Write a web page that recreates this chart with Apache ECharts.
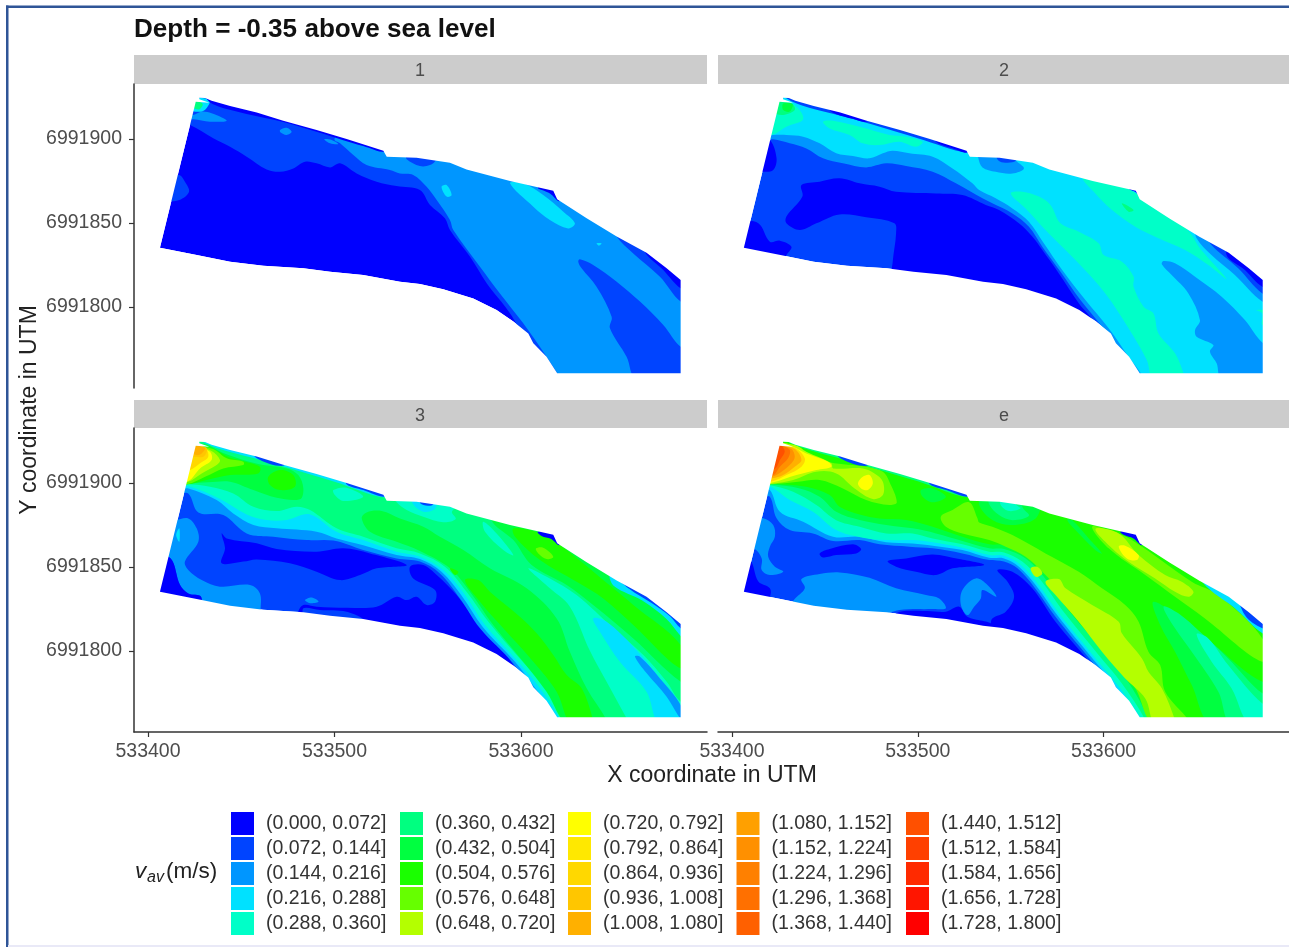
<!DOCTYPE html>
<html><head><meta charset="utf-8">
<style>html,body{margin:0;padding:0;background:#fff}#c{width:1289px;height:947px;filter:blur(0.5px)}</style>
<script src="https://cdn.jsdelivr.net/npm/echarts@6/dist/echarts.min.js"></script>
</head><body><div id="c"></div>
<script>
const panelNames = ['1','2','3','e'];
const xTicks = [533400,533500,533600];
const yTicks = [6991800,6991850,6991900];
const X0 = 533400, Y0 = 6991800; // region vertices are metres east / north of this point
const levelLabels = ['(0.000, 0.072]','(0.072, 0.144]','(0.144, 0.216]','(0.216, 0.288]','(0.288, 0.360]',
 '(0.360, 0.432]','(0.432, 0.504]','(0.504, 0.576]','(0.576, 0.648]','(0.648, 0.720]',
 '(0.720, 0.792]','(0.792, 0.864]','(0.864, 0.936]','(0.936, 1.008]','(1.008, 1.080]',
 '(1.080, 1.152]','(1.152, 1.224]','(1.224, 1.296]','(1.296, 1.368]','(1.368, 1.440]',
 '(1.440, 1.512]','(1.512, 1.584]','(1.584, 1.656]','(1.656, 1.728]','(1.728, 1.800]'];
const levelColors = ['#0000FF','#0044FF','#0096FF','#00E1FF','#00FFC8',
 '#00FF80','#00FF40','#1AFF00','#66FF00','#B4FF00',
 '#FFFF00','#FFE800','#FFD800','#FFC600','#FFB000',
 '#FFA000','#FF9000','#FF8000','#FF7000','#FF6000',
 '#FF5000','#FF4000','#FF2A00','#FF1500','#FF0000'];
const domainOutline = [[25.6,122.2],[32.9,121.6],[27.5,123.6],[27.5,124.6],[30.6,124.4],[34.1,122.8],[44,119.6],[58.3,115.7],[72.5,110.9],[90.4,105.3],[106.5,100],[126.2,93],[128,89.5],[144,88.9],[161.9,85.9],[170.8,81.9],[194.1,75],[217.3,69.2],[219.4,64.1],[235.2,52.8],[251.3,41.9],[267.3,32.3],[278.1,23],[285.6,16.1],[285.6,-39.5],[219.4,-39.5],[213.7,-29.6],[206.6,-21.6],[203.9,-15.7],[195.9,-8.7],[186.9,-1.8],[174.4,5.1],[158.3,10.5],[145.8,13.7],[135.1,15],[115.4,19],[97.6,21],[83.3,23],[61.8,24.6],[44,27],[26.1,31],[6.4,35.3]];
const OUTER_EAST = [[222,-46],[290,-46],[296,-46],[296,-40],[296,122],[296,128],[290,128]];
const OUTER = [...OUTER_EAST,[21,128],[15,128],[15,122]];

const panel1Regions = [
 [0,domainOutline],
 [1,[[15,110],[22.5,108.3],[35,100.4],[44,95.4],[52.9,89.5],[63.6,81.9],[70.8,80.5],[77.9,82.5],[84.2,86.5],[90.4,85.5],[97.6,83.1],[103,85.5],[111.9,79.5],[122.6,74.6],[133.3,72],[145.8,69.6],[151.2,60.7],[159.2,52.8],[161.9,45.8],[172.6,30],[181.6,14.1],[196.8,-8.7],[200,-25],...OUTER]],
 [1,[[16.8,78.6],[19.8,74.6],[22,68.6],[16.8,63.7],[10,64],[10,78]]],
 [2,[[100,100],[103,97.4],[110.1,90.5],[117.2,84.5],[129.7,81.5],[135.1,79.5],[142.2,78.6],[149.4,71.6],[154.8,63.7],[161.9,51.8],[163.7,45.8],[178,24],[188.7,8.1],[201.2,-9.7],[213.7,-29.6],[219.4,-39.5],...OUTER_EAST,[115,128],[110,128],[108,122]]],
 [2,[[24.3,114.3],[28.8,116.3],[34.1,115.3],[42.2,110.9],[33.2,110.3],[24.3,111.7],[20,112],[22,116]]],
 [3,[[24,124],[33,123],[30.5,117.2],[26,116.2],[22,118]]],
 [5,[[25,124],[29.3,120.8],[27.5,117.6],[24,119.2]]],
 [2,[[70.8,105.3],[74.3,106.7],[77,104.3],[74.3,102.4],[71.1,103.8]]],
 [2,[[94.5,99.8],[98.5,99.4],[102,97],[97.6,97.4]]],
 [0,[[30,128],[60,122],[100,108],[132,96],[127,92.2],[115.4,95.8],[104.7,99.3],[90.4,104.3],[72.5,110.1],[52.9,114.9],[42.2,117.8],[35.9,120.2],[32.3,122.8]]],
 [1,[[138.7,90],[138.7,88],[145.8,83.9],[151.2,84.5],[154.4,87.5],[154,92]]],
 [0,[[209,71],[219,72],[220.5,63],[215.5,67.6]]],
 [1,[[251.3,41.9],[260.2,31.9],[274.5,18],[285.6,3.2],[292,3],[292,22],[270,42],[252,46]]],
 [0,[[266,34],[276.3,22],[285.6,11.1],[292,10],[292,22],[272,40]]],
 [1,[[231.6,28.4],[238.7,25],[251.3,15.1],[263.8,3.2],[276.3,-10.7],[285.6,-23.6],[292,-24],[292,-44],[262,-43],[256.6,-29.6],[247.7,-12.7],[248.6,-5.8],[240.5,12.1],[232.5,23],[230.7,27]]],
 [3,[[194.1,73.6],[201.2,73.6],[211.9,66.6],[222.7,56.7],[228.9,49.8],[225.3,46.8],[215.5,51.8],[206.6,59.7]]],
 [3,[[157.4,71.6],[160.1,72.6],[162.8,66.6],[160.1,65.7]]],
 [3,[[240.5,37.9],[243.2,37.9],[241.8,36.5]]]
];

const panel2Regions = [
 [1,domainOutline],
 [0,[[37.4,72.6],[47.2,74.6],[57.9,76.6],[68.7,73.6],[79.4,71.6],[88.3,68.6],[109.8,67.6],[124,66.6],[136.6,60.7],[143.7,57.7],[154.4,49.8],[161.6,41.9],[167,33.9],[175.9,20],[186.6,2.2],[194.7,-9.7],[190,-14],[180,-5],[140,8],[95,10],[86.5,19],[86.5,27],[88.3,43.8],[87.4,49.8],[72.2,53.4],[57.9,55.1],[45.4,49.8],[36.5,45.8],[29.3,49.8],[29.3,53.8],[37.9,65.7]]],
 [0,[[20.4,99.4],[24,88.5],[22.2,81.5],[16.8,80.5],[10,82],[14,100]]],
 [0,[[14.2,49.8],[20.4,38.9],[25.8,39.5],[32,35.9],[29.3,31],[25,24],[0,30],[5,50]]],
 [2,[[15,100],[22.2,99.8],[31.1,97.4],[40,94.4],[49,88.5],[59.7,85.5],[72.2,83.1],[83,85.5],[93.7,83.9],[108,80.5],[120.5,73.6],[134.8,64.7],[140.1,61.7],[150.9,55.7],[159.8,47.8],[167,35.9],[176.8,21],[187.5,4.1],[199.1,-11.7],[211.6,-30.6],[218.8,-40.5],...OUTER]],
 [3,[[15,102.4],[21.7,102.4],[29.3,102.4],[38.3,101.4],[47.2,97.4],[56.1,91.5],[65.1,89.9],[74,88.5],[81.2,91.5],[86.5,93],[95.5,91.5],[108,89.5],[118.7,82.5],[129.4,73.6],[133,69.6],[141.9,64.7],[150.9,58.7],[159.8,50.8],[167.8,37.9],[177.7,22],[190.2,4.1],[202.7,-12.7],[213.4,-29.6],[220.6,-40.5],...OUTER]],
 [1,[[28,126],[60,122],[100,108],[127,97],[126.7,91.9],[100,100.5],[60,113.5],[42,118.5],[32,122.5]]],
 [0,[[52.6,117.2],[56.1,114.8],[65.1,112],[72.2,110.3],[74,115],[52,122]]],
 [0,[[109.8,98.4],[118.7,94.5],[126.7,91.9],[128,97],[110,103]]],
 [2,[[132.6,88.5],[134.8,83.1],[141.9,80.5],[150.9,79.5],[157.1,82.5],[152.7,87.5],[152,92],[133,92]]],
 [1,[[142.8,88],[146,86],[152.7,87],[152,92],[143,92]]],
 [0,[[211.6,70.6],[217,68.6],[219.7,64.7],[222,64],[218,73],[210,73]]],
 [4,[[49,110.3],[54.4,110.9],[68.7,107.3],[84.7,102.4],[93.7,101.4],[102.6,98.4],[99,95.4],[90.1,98.4],[79.4,96.4],[70.4,97.4],[63.3,102.4],[52.6,106.3]]],
 [4,[[21.3,102.4],[29.3,107.3],[38.3,111.7],[33.8,120.2],[26.7,122.2],[20,122],[15,105]]],
 [5,[[20,122],[26.7,122.2],[32.5,120.8],[33.8,117.2],[27.6,114.3],[22,116]]],
 [6,[[27.6,121.2],[32.6,120.8],[31.1,116.3],[27.6,117.2]]],
 [4,[[150,67.6],[156.2,68.6],[165.2,65.7],[171.4,60.7],[176.8,49.8],[186.6,44.8],[197.3,37.9],[200,30.9],[209.8,27],[216.1,18.1],[216.1,12.1],[221.5,0.2],[226.8,-3.8],[229.5,-15.7],[238.4,-27.6],[242.9,-39.5],[243,-44],[226.8,-43],[223.2,-31.6],[213.4,-12.7],[200.9,8.1],[184.8,28],[170.5,43.8],[158,58.7]]],
 [4,[[188.4,77.6],[194.7,68.6],[204.5,57.7],[217,47.8],[229.5,40.9],[243.8,33.9],[256.3,25],[266.1,16.7],[251.8,34.9],[247.4,42.8],[240,52],[220,66],[195,80]]],
 [5,[[209.8,61.7],[216.1,57.7],[213.4,56.7]]],
 [2,[[232.2,27.4],[238.4,26],[249.2,18],[263.5,6.1],[276,-7.8],[285.8,-21.6],[292,-22],[292,-44],[263.5,-42.5],[260.8,-33.5],[257.2,-26.6],[259,-22.6],[250,-17.7],[249.2,-13.7],[251.8,-7.8],[245.6,8.1],[236.6,19],[231.3,25.4]]],
 [2,[[250,40.9],[258,30.9],[270.6,19],[285.4,3.2],[292,3],[292,25],[270,42],[250,47]]],
 [1,[[258,36.9],[272.4,23],[285.4,8.1],[292,8],[292,25],[270,42],[255,44]]],
 [0,[[266.1,30.9],[276,22],[285.4,12.1],[292,12],[292,25],[270,40]]],
 [4,[[281.9,-1.8],[285.4,-3.8],[285.4,-10.7],[292,-10],[292,-3]]]
];

const panel3Regions = [
 [1,domainOutline],
 [0,[[39.5,70],[42.2,67],[58.3,64.1],[69,60.7],[90.4,59.1],[104.7,61.1],[119,58.1],[138.7,51.2],[122.6,49.2],[113.7,45.2],[103,42.2],[90.4,47.2],[76.1,52.2],[58.3,54.5],[51.1,53.2],[39.5,52.2],[41.3,61.1]]],
 [2,[[14.5,77.9],[21.6,78.9],[26.1,73],[27,65.1],[19.8,53.2],[21.6,48.2],[28.8,42.2],[38.6,38.3],[54.7,39.3],[60,34.3],[60.4,24.4],[60,18],[30,22],[28.8,30.3],[27.9,32.9],[21.6,34.3],[17.2,39.3],[12.2,55.1],[5,55],[8,78]]],
 [3,[[15.1,69],[16.8,73],[16.8,65]]],
 [0,[[12.2,55.1],[17.2,39.3],[21.6,34.3],[27.9,32.9],[28.8,30.3],[25,24],[0,30],[5,55]]],
 [0,[[140.5,50.2],[147.6,51.2],[154.8,45.2],[165.5,33.3],[176.2,17.4],[186.9,5.5],[195.9,-8.3],[200,-16],[180,-8],[135,4],[80,15],[80.6,23.4],[83.3,27.4],[90.4,26.4],[106.5,25.8],[122.6,26.4],[133.3,32.3],[138.7,30.3],[144,32.3],[149.4,27.4],[153.9,29.3],[153.9,36.3],[142.2,43.2]]],
 [2,[[84.2,30.3],[87.8,31.9],[91.5,29.4],[86.9,28.4]]],
 [1,[[83.3,25.4],[92.2,24.4],[106.5,23.4],[115.4,18.4],[100,15],[85,18]]],
 [2,[[15,94],[21.6,93.8],[27,82.5],[40.4,80.9],[52.9,70],[67.2,68],[85,66],[99.4,65.7],[115.4,60.1],[133.3,55.1],[145.8,53.2],[156.5,46.2],[167.3,31.3],[178,13.5],[195.9,-7.4],[206.6,-24.2],[219.1,-41],...OUTER]],
 [3,[[15,97],[21.6,96.8],[36.8,89.9],[45.7,81.9],[56.5,75],[69,73],[90.4,71],[101.1,67],[115.4,63],[133.3,57.1],[145.8,54.7],[157.4,47.2],[168.2,32.9],[179.4,14.5],[196.8,-6.4],[208.4,-23.2],[220,-41],...OUTER]],
 [4,[[15,98],[21.6,98.2],[38.6,90.5],[52.9,81.3],[63.6,78],[74.4,78],[86.9,81.3],[101.1,71],[115.4,66],[133.3,59.1],[145.8,56.1],[158.3,48.2],[169.4,34.3],[180.7,15.5],[197.6,-5.4],[210.2,-22.2],[221.2,-41],...OUTER]],
 [5,[[15,99],[21.6,99.2],[33.2,97.8],[45.7,93.8],[56.5,85.9],[69,83.3],[79.7,85.9],[86.9,83.9],[101.1,73],[115.4,68],[133.3,61.1],[145.8,58.1],[159.2,50.2],[170.8,35.3],[182.5,17.4],[198.5,-3.4],[212,-20.3],[223.6,-41],...OUTER]],
 [6,[[21.6,99.8],[32.3,100.4],[44,100.8],[56.5,95.8],[69,91.2],[81.5,90.4],[83.3,96.8],[80.6,104.7],[74.4,108.7],[61.8,110.7],[51.1,113.7],[40,118],[30,123],[15,122],[14,100]]],
 [7,[[64.5,103.7],[70.8,107.7],[77.9,104.7],[78.8,97.8],[70.8,95.8],[65.4,98.8]]],
 [7,[[21.1,99.2],[31.4,101.8],[44,104.7],[59.1,105.7],[60,109.7],[51.1,113],[44,115],[35,120.2],[25.6,122.2],[15,122],[12,100]]],
 [8,[[21.1,99.2],[30.6,103.7],[40.4,108.7],[51.1,110.7],[51.1,112.7],[42.2,114.7],[35,120.2],[25.6,122.2],[15,122],[12,100]]],
 [9,[[21.6,100.8],[28.8,105.7],[36.8,110.7],[38.6,113.7],[34.1,119],[26.1,122.2],[15,122],[12,100]]],
 [10,[[21.6,101.2],[27.9,108.7],[34.1,113.7],[33.2,118.6],[26.1,122.2],[15,122],[12,100]]],
 [12,[[22.5,107.7],[27.9,111.7],[32.3,115.6],[30.6,121],[25.6,122.2],[15,122],[15,107]]],
 [13,[[24.3,115.6],[29.7,115.6],[31.8,119.6],[30.6,121.4],[25.6,122.2],[20,122],[20,115]]],
 [14,[[25.6,122],[30.6,121],[28.8,117.6],[26,116.6],[24,118]]],
 [4,[[99.4,95.8],[106.5,97.2],[115.4,91.8],[104.7,89.3],[100.2,92.8]]],
 [6,[[114.6,79],[117.2,82.5],[125.3,83.3],[135.1,78.9],[147.6,74],[156.5,68],[169.1,60.1],[183.3,49.2],[203,37.3],[219.1,19.4],[226.2,-0.4],[235.2,-22.2],[245.9,-41],[245.9,-44],[225.3,-44],[213.7,-24.2],[201.2,-6.4],[185.1,15.5],[172.6,35.3],[161.9,49.2],[145.8,59.5],[133.3,65],[119,71]]],
 [7,[[169.9,42.2],[177.1,42.2],[183.3,35.3],[199.4,20.4],[208.4,10.5],[217.3,-2.4],[224.5,-14.3],[232.5,-22.2],[238.7,-41],[238.7,-44],[227.1,-44],[219.1,-24.2],[206.6,-6.4],[190.5,13.5],[178,29.3]]],
 [7,[[161.9,49.2],[166.4,47.2],[164.6,45.2]]],
 [4,[[133.3,90],[133.3,88.5],[138.7,83.9],[147.6,79.9],[158.3,76.6],[165,78.5],[163,83],[170,90]]],
 [3,[[142.2,87.3],[147.6,82.9],[153,83.9],[154.8,86.9],[155,92],[142,92]]],
 [1,[[146,88],[150,86.5],[153,87.4],[153,92],[146,92]]],
 [6,[[184.2,77.9],[195.9,66],[205.7,51.2],[224.5,39.3],[238.7,27.4],[260.2,7.5],[285.7,-18.3],[292,-18],[292,10],[250,45],[220,75],[190,85]]],
 [7,[[195.9,73],[196.8,68],[210.2,54.1],[229.8,41.2],[244.1,31.3],[260.2,15.5],[285.6,-10.3],[285.6,3.5],[260.2,27.4],[249.5,37.3],[217.3,66],[206.6,71.4]]],
 [8,[[208,61],[211.9,61.5],[217.3,56.1],[213.7,54.7],[209.3,58.1]]],
 [4,[[179.8,77],[186.9,70],[195.9,57.1],[190.5,60.1],[180.7,71]]],
 [4,[[203.9,49.2],[215.5,43.2],[229.8,33.3],[249.5,13.5],[265.6,-2.4],[278.1,-18.3],[285.7,-30.2],[292,-30],[292,-44],[258.4,-44],[256.6,-40.1],[245.9,-18.3],[237,0],[226.2,26.4],[215.5,37.3]]],
 [3,[[238.7,19.4],[245.9,17.4],[260.2,2.6],[274.5,-16.3],[285.7,-34.2],[292,-34],[292,-44],[274.5,-44],[267.3,-24.2],[253,-6.4],[242.3,11.5]]],
 [2,[[261.1,-3.4],[263.8,-3.4],[274.5,-16.3],[285.6,-32.2],[285.7,-40.1],[278.1,-27.2],[267.4,-13.3]]],
 [3,[[28,126],[60,122],[100,108],[128,97],[126.7,91.5],[100,100.8],[60,113.8],[42,119],[32,123]]],
 [1,[[58.3,114.8],[72.5,110.2],[74,116],[55,122]]],
 [1,[[106.5,99.3],[115.4,95.8],[127,91.8],[128,97],[107,104]]],
 [0,[[209,71],[219,72],[220.5,63],[216,66.8],[211,68.5]]],
 [3,[[248,45],[270,38],[292,20],[292,3],[285.6,9],[278,19],[265,30],[250,38.5]]],
 [1,[[250,46],[270,38],[292,20],[292,10],[285.6,13.5],[280,20.5],[270,28.5],[258,37]]]
];

const panel4Regions = [
 [1,domainOutline],
 [0,[[47.2,58.1],[52.6,60.7],[65.1,63.5],[69.5,60.7],[66.9,58.1],[56.1,57.1],[49,55.7]]],
 [0,[[83.8,53.5],[93.7,55.1],[108,57.5],[122.3,54.7],[135.7,51.2],[118.7,49.2],[109.8,45.2],[99,47.2],[88.3,50.2]]],
 [0,[[9.7,54.1],[14.2,41.3],[20.4,37.3],[20.4,32.3],[15,25],[0,30],[3,54]]],
 [0,[[142.8,48.2],[150.9,47.2],[161.6,37.3],[174.1,17.4],[193.8,-8.4],[200,-18],[180,-8],[150,4],[140,10],[139.3,15.5],[140.1,19.4],[147.3,23.4],[151.8,32.3],[148.2,41.3]]],
 [0,[[88.3,22.4],[104.4,23.8],[115.1,23.4],[122.3,26.4],[126.7,20.4],[140.1,15.5],[130,6],[90,14]]],
 [2,[[37.4,42.8],[47.2,45.8],[57.9,46.8],[74,43.6],[88.3,37.3],[104.4,33.3],[111.5,31.3],[115.1,25.4],[108,25],[90.1,24.4],[79.4,21],[59.7,20],[47.2,23.4],[32.9,27.4],[33.3,30.3],[39.2,37.3]]],
 [2,[[16.8,79],[22.2,75],[23.1,68],[20.4,62.1],[19.5,56.1],[23.1,50.2],[27.6,47.2],[20.4,45.2],[16,48.2],[16,55.1],[11.5,61.1],[3,61],[8,80]]],
 [2,[[124,36.3],[131.2,43.2],[137.5,39.3],[142.3,32.3],[134.8,36.3],[133.9,31.3],[130.3,26.4],[126.7,21.4],[123.2,27.4]]],
 [2,[[15,92],[20.4,91.8],[24,79],[31.1,72],[43.6,70],[54.4,65.5],[68.7,66],[79.4,63.5],[95.5,62.1],[108,61.1],[124,58.1],[138.4,54.1],[146.4,53.2],[153.6,49.2],[162.5,38.3],[174.1,20.4],[193.8,-6.4],[206.3,-23.2],[218.8,-41],...OUTER]],
 [3,[[15,96],[20.4,95.8],[25.8,82.9],[38.3,77],[54.4,68],[68.7,68],[83,64.7],[97.2,64],[108,62.7],[124,60.1],[138.4,55.5],[146.4,55.1],[154.4,50.2],[163.4,39.3],[175,21.4],[194.7,-5.4],[207.2,-22.2],[219.7,-41],...OUTER]],
 [4,[[15,98],[20,98.2],[31.1,89.9],[43.6,82.9],[56.1,72],[70.4,67.4],[83,66],[97.2,66],[108,64.7],[124,61.5],[138.4,57.1],[146.4,56.7],[155.4,51.2],[164.3,40.3],[175.9,22.4],[195.6,-4.4],[208.1,-21.2],[220.6,-41],...OUTER]],
 [5,[[15,99],[20,98.8],[32.9,94.8],[45.4,86.9],[56.1,77.9],[68.7,74],[83,70],[97.2,70],[108,67],[124,63.5],[138.4,59.1],[146.4,58.7],[156.2,53.2],[166.1,42.2],[177.7,24.4],[197.3,-2.4],[209.8,-19.3],[222.4,-41],...OUTER]],
 [6,[[15,99],[20.4,99.2],[36.5,96.8],[47.2,91.8],[56.1,82.9],[68.7,78],[83,75],[97.2,73],[109.8,70],[124,65.5],[138.4,61.1],[146.4,60.7],[158,55.1],[167.8,44.2],[179.5,26.4],[200,-0.4],[212.5,-17.3],[224.1,-41],...OUTER]],
 [7,[[15,99.5],[20.8,99.6],[40,97.8],[52.6,92.8],[57.9,85.9],[68.7,81.3],[79.4,78.9],[93.7,78],[108,74],[124,68],[138.4,63.5],[146.4,63.1],[159.8,57.1],[169.6,47.2],[182.1,29.3],[202.7,2.6],[216.1,-15.3],[225.9,-41],...OUTER]],
 [8,[[21.3,99.2],[35.6,100.8],[47.2,101.8],[59.7,96.8],[72.2,89.9],[84.7,86.9],[88.7,88.5],[84.7,100.8],[81.2,106.7],[72.2,109.7],[52.6,112.3],[40,117.6],[33.8,122.6],[15,123],[14,99]]],
 [9,[[21.7,99.6],[32.9,101.8],[45.4,106.7],[56.1,105.7],[66,96.8],[75.8,90.5],[81.2,92.8],[81.2,100.8],[76.7,105.7],[70.4,108.7],[54.4,108.7],[53.5,111.7],[40,118.6],[33.8,122.6],[15,123],[14,99]]],
 [10,[[22.2,100.4],[34.7,104.7],[45.4,107.7],[53.5,109.7],[51.7,112.7],[40,117.6],[32.9,121.6],[26.3,122.2],[15,122],[14,100]]],
 [10,[[67.8,99.8],[70.4,103.7],[74,104.7],[75.8,99.8],[73.1,95.8],[69.5,96.8]]],
 [12,[[22.2,101.2],[29.3,104.7],[37.4,109.7],[39.2,114.7],[33.8,121],[26.3,122.2],[15,122],[14,101]]],
 [14,[[21.8,102.8],[27.6,104.7],[33.8,109.7],[37.4,113.7],[33.8,120.2],[26.3,122.2],[15,122],[14,102]]],
 [16,[[21.8,103.8],[26.7,106.7],[32,111.7],[33.8,115.6],[32,120.2],[26.3,122.2],[15,122],[14,103]]],
 [18,[[22.2,104.7],[25.8,109.7],[30.2,114.7],[31.1,119.6],[26.3,122.2],[15,122],[14,104]]],
 [20,[[23.1,108.7],[25.8,113.7],[28.4,118.6],[26.3,122.2],[15,122],[14,108]]],
 [6,[[101.7,95.8],[108,96.8],[115.1,91.8],[108,88.5],[102.6,91.8]]],
 [8,[[112.4,79.9],[118.7,83.9],[127.6,88.5],[132.1,79],[133,76.5],[140.1,74],[150.9,69],[168.7,58.1],[186.6,47.2],[199.1,37.3],[211.6,27.4],[218.8,17.4],[224.1,-0.4],[230.4,-8.4],[233.1,-24.2],[245.6,-41],[245.6,-44],[226.8,-44],[217,-22.2],[204.5,-4.4],[186.6,18.4],[175.9,36.3],[167,47.2],[158,56.1],[147.3,62.1],[138.4,66.1],[124,70],[115.1,74]]],
 [9,[[168.7,41.2],[175.9,42.8],[179.5,37.3],[193.8,27.4],[208.1,17.4],[209.8,10.5],[220.6,-4.4],[224.1,-12.3],[231.3,-22.2],[238.4,-41],[238.4,-44],[227.7,-44],[222.4,-28.2],[211.6,-16.3],[199.1,-0.4],[186.6,17.4],[174.1,33.3]]],
 [9,[[160.7,49.2],[164.3,50.2],[167,46.2],[163.4,44.2]]],
 [6,[[133,86.9],[140.1,78],[150.9,75],[163.4,78.9],[165,88],[135,92]]],
 [5,[[138.4,87.3],[143.7,80.9],[150.9,77.9],[159.8,80.5],[156.2,85.9],[157,92],[139,92]]],
 [4,[[144.6,86.9],[149.1,83.3],[155.3,84.9],[152.7,87.3],[153,92],[145,92]]],
 [6,[[183,78],[192,67],[199.1,58.1],[195.6,60],[184.8,72],[180.4,78]]],
 [8,[[193.8,74],[202.7,61.1],[222.4,45.2],[238.4,32.3],[254.5,19.4],[285.4,-6.4],[285.4,7.5],[261.7,33.3],[247.4,41.2],[215.2,66],[204.5,71.4]]],
 [9,[[195.6,72.6],[204.5,61.1],[213.4,53.1],[227.7,43.2],[238.4,35.3],[245.6,32.3],[248.3,35.3],[242,41.2],[233.1,45.2],[218.8,57.1],[208.1,70]]],
 [10,[[208.1,62.1],[211.6,62.7],[218.8,57.1],[217.9,54.1],[212.5,55.1]]],
 [6,[[226.8,29.3],[243.8,17.4],[261.7,1.6],[274.2,-10.3],[285.4,-18.3],[292,-18],[292,-44],[258.1,-44],[247.4,-20.3],[238.4,-0.4],[230.4,15.5]]],
 [5,[[232.2,26.4],[240.2,22.4],[252.7,10.5],[267,-4.4],[285.4,-25.2],[292,-25],[292,-44],[268.8,-44],[261.7,-24.2],[247.4,-0.4],[238.4,13.5]]],
 [4,[[250,9.9],[256.3,7.5],[267,-8.4],[285.4,-31.2],[292,-31],[292,-44],[278.6,-44],[268.8,-22.2],[258.1,-6.4]]],
 [5,[[28,126],[60,122],[100,108],[128,97],[126.7,91.5],[100,101],[60,114],[42,119.5],[33,123]]],
 [1,[[58.3,114.8],[72.5,110.2],[74,116],[55,122]]],
 [1,[[106.5,99.3],[115.4,95.8],[127,91.8],[128,97],[107,104]]],
 [0,[[209,71],[219,72],[220.5,63],[216,67],[211,69]]],
 [3,[[256.3,37.3],[270.6,25.4],[285.4,10.5],[292,10],[292,25],[270,42],[250,47]]],
 [1,[[276,21.4],[285.4,13.5],[292,13],[292,25],[272,38]]]
];
const panelRegions = [panel1Regions,panel2Regions,panel3Regions,panel4Regions];

const FONT = 'Liberation Sans';
const PXM_X = 1.865, PXM_Y = 1.68;
const panelBoxes = [[134,84],[718,84],[134,428],[718,428]];
const PW = 573, PH = 304;
const xMin = 533400 - 14/PXM_X, xMax = xMin + PW/PXM_X;
const yMax = 6991900 + 55/PXM_Y, yMin = yMax - PH/PXM_Y;

// white surround of the surveyed area; it runs a few metres past the panel and the panel clips it
const mL=xMin-X0-6, mR=xMax-X0+6, mT=yMax-Y0+6, mB=yMin-Y0-6;
const maskPoints = [[mL,mT],[mL,mB],[mR,mB],[mR,mT],[mL,mT],...domainOutline,domainOutline[0],[mL,mT]];

function makeRenderer(list){
  return function(params, api){
    const r = list[params.dataIndex];
    const isMask = r[0] < 0, isOutline = r[1] === domainOutline;
    return {type:'polygon', silent:true,
      shape:{points:r[1].map(p=>api.coord([X0+p[0],Y0+p[1]])), smooth:(isMask||isOutline)?0:0.35},
      style:{fill:isMask?'#ffffff':levelColors[r[0]]}};
  };
}
const grids = panelBoxes.map(b=>({left:b[0],top:b[1],width:PW,height:PH,containLabel:false}));
const labelCol='#4d4d4d', lineCol='#333333';
const xAxes = panelBoxes.map((b,i)=>{
  const show = i>=2;
  return {type:'value',gridIndex:i,min:xMin,max:xMax,z:10,show:show,scale:true,splitLine:{show:false},
   axisLine:{show:show,onZero:false,lineStyle:{color:lineCol,width:1.5}},
   axisTick:{show:show,length:5,customValues:xTicks,lineStyle:{color:lineCol,width:1.2}},
   axisLabel:{show:show,margin:10,customValues:xTicks,formatter:v=>String(v),hideOverlap:false,showMinLabel:true,showMaxLabel:true,
     fontFamily:FONT,fontSize:19.5,color:labelCol}};
});
const yAxes = panelBoxes.map((b,i)=>{
  const show = i%2===0;
  return {type:'value',gridIndex:i,min:yMin,max:yMax,z:10,show:show,scale:true,splitLine:{show:false},
   axisLine:{show:show,onZero:false,lineStyle:{color:lineCol,width:1.5}},
   axisTick:{show:show,length:5,customValues:yTicks,lineStyle:{color:lineCol,width:1.2}},
   axisLabel:{show:show,margin:12,customValues:yTicks,formatter:v=>String(v),hideOverlap:false,padding:[2,0,0,0],
     fontFamily:FONT,fontSize:19.5,color:labelCol}};
});
const panelSeries = panelRegions.map((regions,i)=>{
  const list = regions.concat([[-1,maskPoints]]);
  return {type:'custom',name:'panel '+panelNames[i],xAxisIndex:i,yAxisIndex:i,coordinateSystem:'cartesian2d',clip:true,
    animation:false,silent:true,progressive:0,renderItem:makeRenderer(list),
    data:list.map(r=>[X0+r[1][0][0],Y0+r[1][0][1],r[0]]),tooltip:{show:false}};
});
const legendSeries = levelLabels.map((n,i)=>({type:'custom',name:n,xAxisIndex:0,yAxisIndex:0,coordinateSystem:'cartesian2d',
   itemStyle:{color:levelColors[i]},data:[],renderItem:()=>null,animation:false}));
const legendLefts=[231,400,568,736.5,906];
const legends = legendLefts.map((l,c)=>({orient:'vertical',left:l,top:812,padding:0,itemWidth:23,itemHeight:23,itemGap:2,
   selectedMode:false,icon:'rect',
   textStyle:{fontFamily:FONT,fontSize:19.5,color:'#333333',padding:[2,0,0,7]},
   data:levelLabels.slice(c*5,c*5+5).map((n,j)=>({name:n,icon:'rect',itemStyle:{color:levelColors[c*5+j]}}))}));

const stripTops=[55,55,400,400], stripLefts=[134,718,134,718];
const graphics=[];
panelNames.forEach((n,i)=>{
  graphics.push({type:'rect',silent:true,shape:{x:stripLefts[i],y:stripTops[i],width:PW,height:29},style:{fill:'#cccccc'}});
  graphics.push({type:'text',silent:true,x:stripLefts[i]+286,y:stripTops[i]+16,style:{text:n,fontFamily:FONT,fontSize:18,fill:'#4d4d4d',textAlign:'center',textVerticalAlign:'middle'}});
});
graphics.push(
 {type:'text',silent:true,x:712,y:776,style:{text:'X coordinate in UTM',fontFamily:FONT,fontSize:23,fill:'#222222',textAlign:'center',textVerticalAlign:'middle'}},
 {type:'text',silent:true,x:30,y:410,rotation:Math.PI/2,style:{text:'Y coordinate in UTM',fontFamily:FONT,fontSize:23,fill:'#222222',textAlign:'center',textVerticalAlign:'middle'}},
 {type:'text',silent:true,x:135,y:872,style:{text:'v',fontFamily:FONT,fontStyle:'italic',fontSize:22.5,fill:'#222222',textAlign:'left',textVerticalAlign:'middle'}},
 {type:'text',silent:true,x:147,y:878,style:{text:'av',fontFamily:FONT,fontStyle:'italic',fontSize:16,fill:'#222222',textAlign:'left',textVerticalAlign:'middle'}},
 {type:'text',silent:true,x:166,y:872,style:{text:'(m/s)',fontFamily:FONT,fontSize:22.5,fill:'#222222',textAlign:'left',textVerticalAlign:'middle'}},
 {type:'rect',silent:true,shape:{x:6,y:5.5,width:1283,height:2.5},style:{fill:'#2f5597'}},
 {type:'rect',silent:true,shape:{x:6,y:5.5,width:2.5,height:942},style:{fill:'#2f5597'}},
 {type:'rect',silent:true,shape:{x:8,y:945,width:1281,height:2},style:{fill:'#e9e9f7'}}
);

const chart = echarts.init(document.getElementById('c'),null,{renderer:'canvas'});
chart.setOption({
  animation:false,backgroundColor:'#ffffff',
  title:{text:'Depth = -0.35 above sea level',left:134,top:17,padding:0,textStyle:{fontFamily:FONT,fontWeight:'bold',fontSize:26.1,color:'#111111'}},
  grid:grids,xAxis:xAxes,yAxis:yAxes,legend:legends,
  series:panelSeries.concat(legendSeries),graphic:graphics
});
</script></body></html>
